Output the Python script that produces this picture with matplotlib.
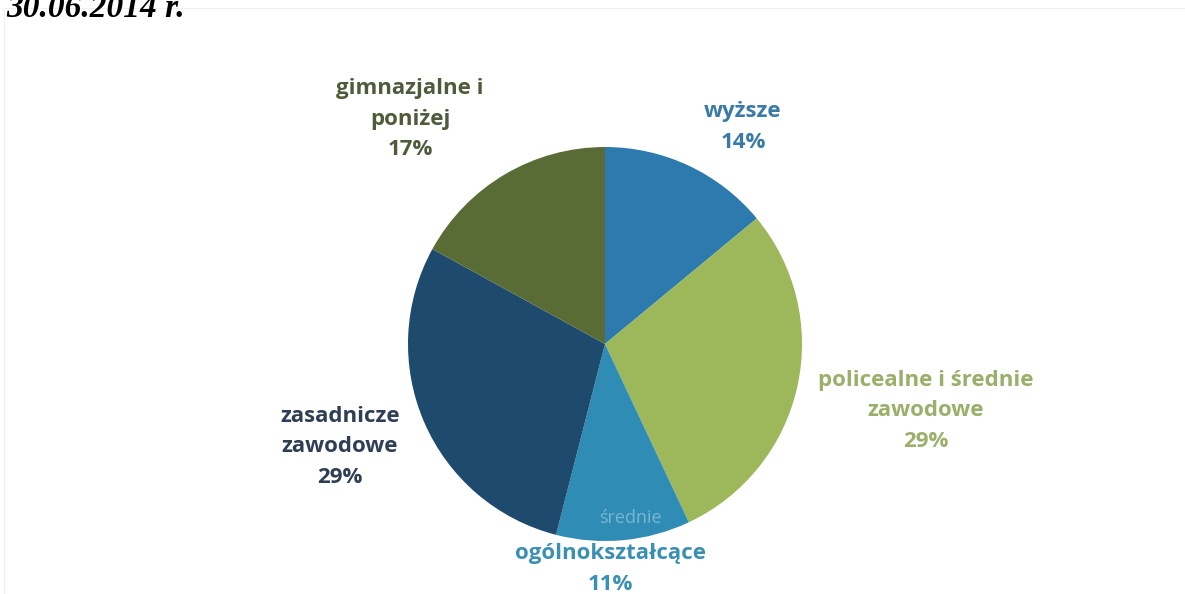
import matplotlib
matplotlib.use("Agg")
import matplotlib.pyplot as plt
from matplotlib.patches import Rectangle

# ── Data ──────────────────────────────────────────────────────────────────────
categories = ["wyższe", "policealne i średnie zawodowe", "średnie ogólnokształcące",
              "zasadnicze zawodowe", "gimnazjalne i poniżej"]
shares = [14, 29, 11, 29, 17]
labels = ["wyższe\n14%", "policealne i średnie\nzawodowe\n29%", "ogólnokształcące\n11%",
          "zasadnicze\nzawodowe\n29%", "gimnazjalne i\nponiżej\n17%"]
title_text = "30.06.2014 r."

slice_colors = ["#2d7bae", "#9cb85a", "#2f8db5", "#1e4a6e", "#5a6c35"]
label_colors = ["#3a7aa8", "#9ab06a", "#3a8fb5", "#2e3e55", "#4f5b3a"]
label_pos = [(743, 127), (926, 411), (610, 569), (340, 447), (410, 119)]

W, H = 1185, 594

plt.rcParams["font.family"] = ["Open Sans", "DejaVu Sans"]

fig = plt.figure(figsize=(W / 100, H / 100), dpi=100)
ax = fig.add_axes([0, 0, 1, 1])

# faint chart-area frame
ax.add_patch(Rectangle((4, -10), W, H - 8 + 10, fill=False, ec="#f0f0f0", lw=0.8))

ax.pie(shares, colors=slice_colors, startangle=90, counterclock=False,
       center=(605, H - 344), radius=197, frame=True,
       wedgeprops=dict(linewidth=0))
ax.set_xlim(0, W)
ax.set_ylim(0, H)
ax.set_aspect("equal")
ax.axis("off")

for text, col, (x, y) in zip(labels, label_colors, label_pos):
    ax.text(x, H - y, text, color=col, ha="center", va="center",
            fontsize=16, fontweight="bold", linespacing=1.6)

# faint "średnie" inside the slice
ax.text(630, H - 518, "średnie", color="#7ab6d2", ha="center", va="center",
        fontsize=13)

# cut-off heading at the top edge
ax.text(6, H - 17, title_text, color="black", ha="left", va="baseline",
        fontsize=24, fontweight="bold", fontstyle="italic",
        family=["Liberation Serif", "DejaVu Serif"])

fig.savefig("out.png", dpi=100)
